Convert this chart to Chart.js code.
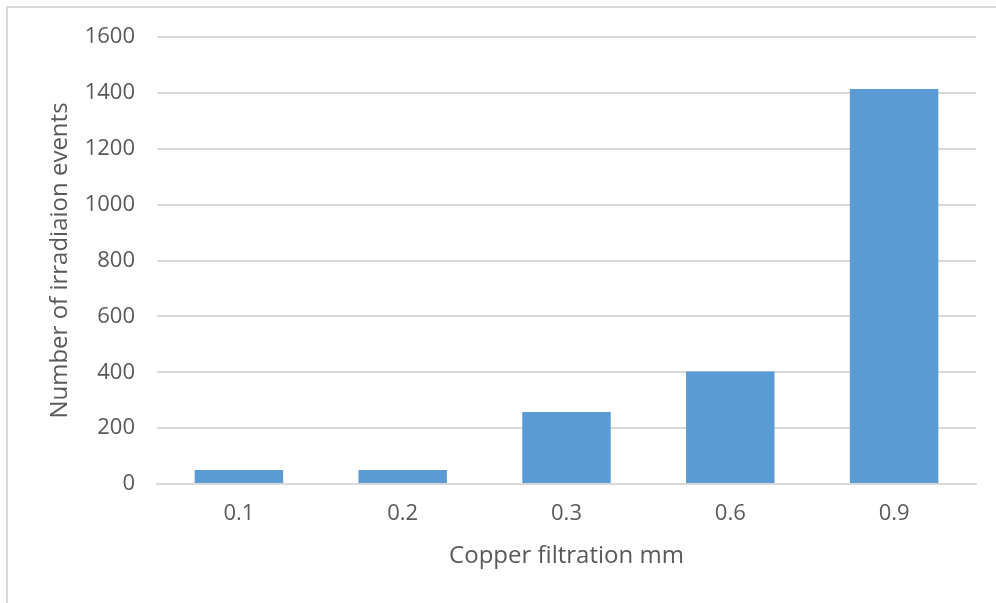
<!DOCTYPE html>
<html>
<head>
<meta charset="utf-8">
<script src="https://cdn.jsdelivr.net/npm/chart.js@4.4.0/dist/chart.umd.min.js"></script>
<style>
  html, body { margin: 0; padding: 0; background: #fff; }
  #wrap { position: relative; width: 996px; height: 603px; overflow: hidden; }
  #frame { position: absolute; left: 6px; top: 6px; right: -4px; bottom: -4px;
           border-left: 2px solid #d9d9d9; border-top: 2px solid #d9d9d9; }
  #c { position: absolute; left: 0; top: 0; }
</style>
</head>
<body>
<div id="wrap">
  <div id="frame"></div>
  <canvas id="c" width="996" height="603"></canvas>
</div>
<script>
var categories = ['0.1', '0.2', '0.3', '0.6', '0.9'];
var events = [50, 50, 258, 403, 1414];
var yTicks = [0, 200, 400, 600, 800, 1000, 1200, 1400, 1600];

var FONT = '"Open Sans", "Liberation Sans", sans-serif';
var TXT = '#595959';

new Chart(document.getElementById('c'), {
  type: 'bar',
  data: {
    labels: categories,
    datasets: [{
      label: 'Number of irradiaion events',
      data: events,
      backgroundColor: '#5b9bd5',
      borderWidth: 0,
      barPercentage: 0.54,
      categoryPercentage: 1
    }]
  },
  options: {
    responsive: false,
    animation: false,
    devicePixelRatio: 1,
    layout: { padding: { left: 0, right: 20, top: 37, bottom: 0 } },
    plugins: { legend: { display: false }, tooltip: { enabled: false } },
    scales: {
      x: {
        grid: { display: false, drawTicks: false },
        border: { color: '#d9d9d9', width: 2 },
        ticks: { color: TXT, font: { family: FONT, size: 22 }, padding: 17 },
        title: { display: true, text: 'Copper filtration mm', color: TXT,
                 font: { family: FONT, size: 24 }, padding: { top: 0, bottom: 32 } },
        afterFit: function(s) { s.height = 119; }
      },
      y: {
        min: 0, max: 1600,
        afterBuildTicks: function(s) { s.ticks = yTicks.map(function(v){ return { value: v }; }); },
        grid: { color: '#d9d9d9', lineWidth: 2, drawTicks: false },
        border: { display: false },
        ticks: { color: TXT, font: { family: FONT, size: 22 }, padding: 22,
                 callback: function(v) { return String(v); } },
        title: { display: true, text: 'Number of irradiaion events', color: TXT,
                 font: { family: FONT, size: 24 }, padding: { top: 46, bottom: 0 } },
        afterFit: function(s) { s.width = 157; }
      }
    }
  }
});
</script>
</body>
</html>
